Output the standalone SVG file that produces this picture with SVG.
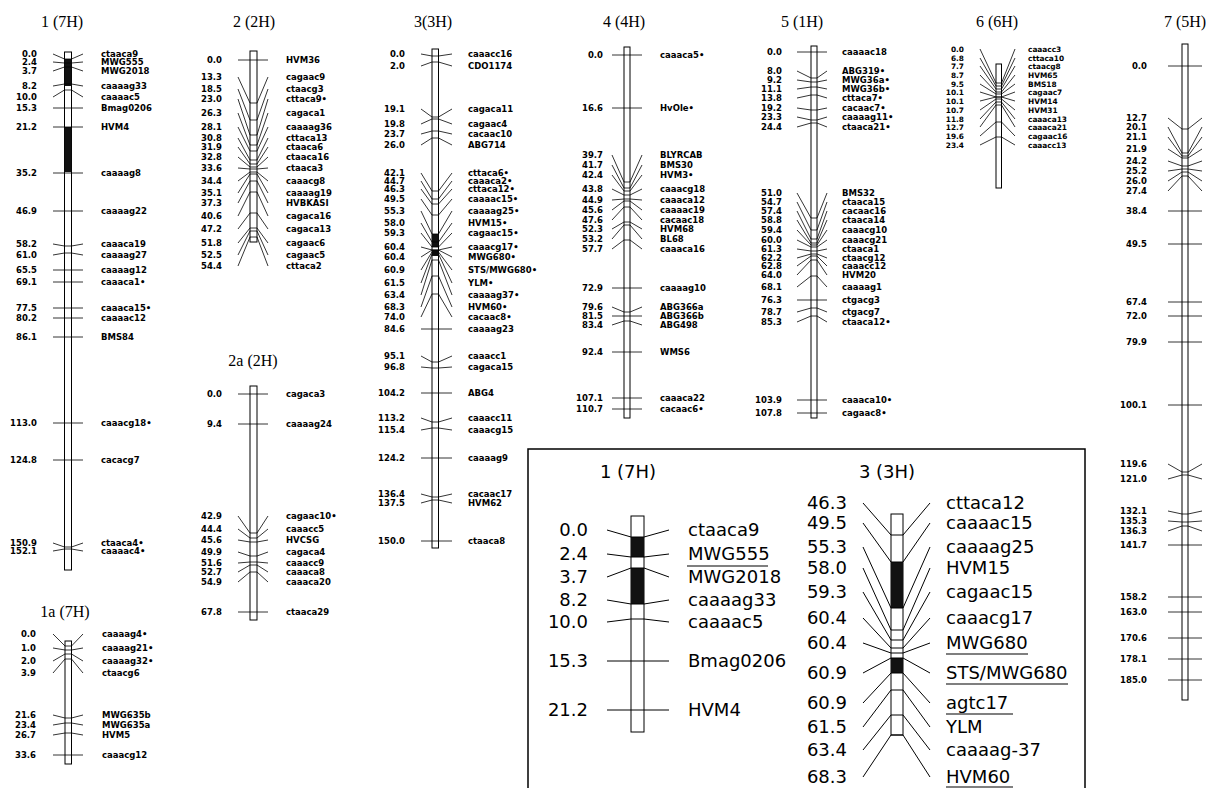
<svg xmlns="http://www.w3.org/2000/svg" width="1209" height="788" viewBox="0 0 1209 788">
<style>
.t{font-family:"Liberation Serif",serif;font-size:16px;text-anchor:middle}
.n{font-family:"DejaVu Sans",sans-serif;font-weight:bold;font-size:8.5px;text-anchor:end}
.l{font-family:"DejaVu Sans",sans-serif;font-weight:bold;font-size:8.5px}
.ns{font-family:"DejaVu Sans",sans-serif;font-weight:bold;font-size:7.4px;text-anchor:end}
.ls{font-family:"DejaVu Sans",sans-serif;font-weight:bold;font-size:7.4px}
.bar{fill:#fff;stroke:#000;stroke-width:1}
.k{fill:#111}
.tk polyline{fill:none;stroke:#000;stroke-width:0.8}
.it{font-family:"DejaVu Sans",sans-serif;font-size:18px}
.in{font-family:"DejaVu Sans",sans-serif;font-size:18px;text-anchor:end}
.ic{font-family:"DejaVu Sans",sans-serif;font-size:18px;text-anchor:middle}
.box{fill:none;stroke:#000;stroke-width:1.5}
.u{stroke:#000;stroke-width:1.2}
.itk polyline{fill:none;stroke:#000;stroke-width:1}
</style>
<rect width="1209" height="788" fill="#fff"/>

<g id="chr1">
<text class="t" x="62" y="27">1 (7H)</text>
<rect class="bar" x="64.5" y="52" width="7" height="518"/>
<rect class="k" x="64.5" y="59" width="7" height="27"/>
<rect class="k" x="64.5" y="127" width="7" height="45"/>
<g class="tk">
<polyline points="53,54 64.5,59 71.5,59 83,54"/>
<polyline points="53,62 64.5,63 71.5,63 83,62"/>
<polyline points="53,71 64.5,67 71.5,67 83,71"/>
<polyline points="53,86 64.5,84 71.5,84 83,86"/>
<polyline points="53,97 64.5,90 71.5,90 83,97"/>
<polyline points="53,108 83,108"/>
<polyline points="53,127 83,127"/>
<polyline points="53,173 83,173"/>
<polyline points="53,211 83,211"/>
<polyline points="53,244 64.5,246 71.5,246 83,244"/>
<polyline points="53,255 64.5,253 71.5,253 83,255"/>
<polyline points="53,270 83,270"/>
<polyline points="53,282 83,282"/>
<polyline points="53,308 83,308"/>
<polyline points="53,318 83,318"/>
<polyline points="53,337 83,337"/>
<polyline points="53,423 83,423"/>
<polyline points="53,460 83,460"/>
<polyline points="53,543 64.5,547 71.5,547 83,543"/>
<polyline points="53,551 64.5,549 71.5,549 83,551"/>
</g>
<text class="n" x="37" y="57">0.0</text><text class="l" x="101" y="57">ctaaca9</text>
<text class="n" x="37" y="65">2.4</text><text class="l" x="101" y="65">MWG555</text>
<text class="n" x="37" y="74">3.7</text><text class="l" x="101" y="74">MWG2018</text>
<text class="n" x="37" y="89">8.2</text><text class="l" x="101" y="89">caaaag33</text>
<text class="n" x="37" y="100">10.0</text><text class="l" x="101" y="100">caaaac5</text>
<text class="n" x="37" y="111">15.3</text><text class="l" x="101" y="111">Bmag0206</text>
<text class="n" x="37" y="130">21.2</text><text class="l" x="101" y="130">HVM4</text>
<text class="n" x="37" y="176">35.2</text><text class="l" x="101" y="176">caaaag8</text>
<text class="n" x="37" y="214">46.9</text><text class="l" x="101" y="214">caaaag22</text>
<text class="n" x="37" y="247">58.2</text><text class="l" x="101" y="247">caaaca19</text>
<text class="n" x="37" y="258">61.0</text><text class="l" x="101" y="258">caaaag27</text>
<text class="n" x="37" y="273">65.5</text><text class="l" x="101" y="273">caaaag12</text>
<text class="n" x="37" y="285">69.1</text><text class="l" x="101" y="285">caaaca1•</text>
<text class="n" x="37" y="311">77.5</text><text class="l" x="101" y="311">caaaca15•</text>
<text class="n" x="37" y="321">80.2</text><text class="l" x="101" y="321">caaaac12</text>
<text class="n" x="37" y="340">86.1</text><text class="l" x="101" y="340">BMS84</text>
<text class="n" x="37" y="426">113.0</text><text class="l" x="101" y="426">caaacg18•</text>
<text class="n" x="37" y="463">124.8</text><text class="l" x="101" y="463">cacacg7</text>
<text class="n" x="37" y="546">150.9</text><text class="l" x="101" y="546">ctaaca4•</text>
<text class="n" x="37" y="554">152.1</text><text class="l" x="101" y="554">caaaac4•</text>
</g>

<g id="chr1a">
<text class="t" x="65" y="617">1a (7H)</text>
<rect class="bar" x="65" y="641" width="6.5" height="123"/>
<g class="tk">
<polyline points="53,634 65,646 71.5,646 83,634"/>
<polyline points="53,648 65,650 71.5,650 83,648"/>
<polyline points="53,661 65,654 71.5,654 83,661"/>
<polyline points="53,673 65,659 71.5,659 83,673"/>
<polyline points="53,715 65,718 71.5,718 83,715"/>
<polyline points="53,725 65,723 71.5,723 83,725"/>
<polyline points="53,735 65,733 71.5,733 83,735"/>
<polyline points="53,755 83,755"/>
</g>
<text class="n" x="36" y="637">0.0</text><text class="l" x="102" y="637">caaaag4•</text>
<text class="n" x="36" y="651">1.0</text><text class="l" x="102" y="651">caaaag21•</text>
<text class="n" x="36" y="664">2.0</text><text class="l" x="102" y="664">caaaag32•</text>
<text class="n" x="36" y="676">3.9</text><text class="l" x="102" y="676">ctaacg6</text>
<text class="n" x="36" y="718">21.6</text><text class="l" x="102" y="718">MWG635b</text>
<text class="n" x="36" y="728">23.4</text><text class="l" x="102" y="728">MWG635a</text>
<text class="n" x="36" y="738">26.7</text><text class="l" x="102" y="738">HVM5</text>
<text class="n" x="36" y="758">33.6</text><text class="l" x="102" y="758">caaacg12</text>
</g>

<g id="chr2">
<text class="t" x="254" y="27">2 (2H)</text>
<rect class="bar" x="250" y="51" width="7" height="191"/>
<g class="tk">
<polyline points="238,60 268,60"/>
<polyline points="238,77 250,103 257,103 268,77"/>
<polyline points="238,89 250,120 257,120 268,89"/>
<polyline points="238,99 250,135 257,135 268,99"/>
<polyline points="238,113 250,145 257,145 268,113"/>
<polyline points="238,127 250,151 257,151 268,127"/>
<polyline points="238,138 250,160 257,160 268,138"/>
<polyline points="238,147 250,164 257,164 268,147"/>
<polyline points="238,157 250,167 257,167 268,157"/>
<polyline points="238,168 250,169 257,169 268,168"/>
<polyline points="238,181 250,172 257,172 268,181"/>
<polyline points="238,193 250,174 257,174 268,193"/>
<polyline points="238,203 250,181 257,181 268,203"/>
<polyline points="238,216 250,192 257,192 268,216"/>
<polyline points="238,229 250,213 257,213 268,229"/>
<polyline points="238,243 250,228 257,228 268,243"/>
<polyline points="238,255 250,231 257,231 268,255"/>
<polyline points="238,266 250,237 257,237 268,266"/>
</g>
<text class="n" x="222" y="63">0.0</text><text class="l" x="286" y="63">HVM36</text>
<text class="n" x="222" y="80">13.3</text><text class="l" x="286" y="80">cagaac9</text>
<text class="n" x="222" y="92">18.5</text><text class="l" x="286" y="92">ctaacg3</text>
<text class="n" x="222" y="102">23.0</text><text class="l" x="286" y="102">cttaca9•</text>
<text class="n" x="222" y="116">26.3</text><text class="l" x="286" y="116">cagaca1</text>
<text class="n" x="222" y="130">28.1</text><text class="l" x="286" y="130">caaaag36</text>
<text class="n" x="222" y="141">30.8</text><text class="l" x="286" y="141">cttaca13</text>
<text class="n" x="222" y="150">31.9</text><text class="l" x="286" y="150">ctaaca6</text>
<text class="n" x="222" y="160">32.8</text><text class="l" x="286" y="160">ctaaca16</text>
<text class="n" x="222" y="171">33.6</text><text class="l" x="286" y="171">ctaaca3</text>
<text class="n" x="222" y="184">34.4</text><text class="l" x="286" y="184">caaacg8</text>
<text class="n" x="222" y="196">35.1</text><text class="l" x="286" y="196">caaaag19</text>
<text class="n" x="222" y="206">37.3</text><text class="l" x="286" y="206">HVBKASI</text>
<text class="n" x="222" y="219">40.6</text><text class="l" x="286" y="219">cagaca16</text>
<text class="n" x="222" y="232">47.2</text><text class="l" x="286" y="232">cagaca13</text>
<text class="n" x="222" y="246">51.8</text><text class="l" x="286" y="246">cagaac6</text>
<text class="n" x="222" y="258">52.5</text><text class="l" x="286" y="258">cagaac5</text>
<text class="n" x="222" y="269">54.4</text><text class="l" x="286" y="269">cttaca2</text>
</g>

<g id="chr2a">
<text class="t" x="253" y="366">2a (2H)</text>
<rect class="bar" x="250" y="386" width="7" height="234"/>
<g class="tk">
<polyline points="238,394 268,394"/>
<polyline points="238,424 268,424"/>
<polyline points="238,516 250,533 257,533 268,516"/>
<polyline points="238,529 250,538 257,538 268,529"/>
<polyline points="238,540 250,542 257,542 268,540"/>
<polyline points="238,552 250,556 257,556 268,552"/>
<polyline points="238,563 250,562 257,562 268,563"/>
<polyline points="238,572 250,565 257,565 268,572"/>
<polyline points="238,582 250,572 257,572 268,582"/>
<polyline points="238,612 268,612"/>
</g>
<text class="n" x="222" y="397">0.0</text><text class="l" x="286" y="397">cagaca3</text>
<text class="n" x="222" y="427">9.4</text><text class="l" x="286" y="427">caaaag24</text>
<text class="n" x="222" y="519">42.9</text><text class="l" x="286" y="519">cagaac10•</text>
<text class="n" x="222" y="532">44.4</text><text class="l" x="286" y="532">caaacc5</text>
<text class="n" x="222" y="543">45.6</text><text class="l" x="286" y="543">HVCSG</text>
<text class="n" x="222" y="555">49.9</text><text class="l" x="286" y="555">cagaca4</text>
<text class="n" x="222" y="566">51.6</text><text class="l" x="286" y="566">caaacc9</text>
<text class="n" x="222" y="575">52.7</text><text class="l" x="286" y="575">caaaca8</text>
<text class="n" x="222" y="585">54.9</text><text class="l" x="286" y="585">caaaca20</text>
<text class="n" x="222" y="615">67.8</text><text class="l" x="286" y="615">ctaaca29</text>
</g>

<g id="chr3">
<text class="t" x="433" y="27">3(3H)</text>
<rect class="bar" x="432" y="49" width="6.5" height="499"/>
<rect class="k" x="432" y="234" width="6.5" height="13"/>
<rect class="k" x="432" y="250" width="6.5" height="6"/>
<g class="tk">
<polyline points="421,54 432,56 438.5,56 452,54"/>
<polyline points="421,66 432,62 438.5,62 452,66"/>
<polyline points="421,109 432,117 438.5,117 452,109"/>
<polyline points="421,124 432,119 438.5,119 452,124"/>
<polyline points="421,134 432,131 438.5,131 452,134"/>
<polyline points="421,145 432,138 438.5,138 452,145"/>
<polyline points="421,173 432,191 438.5,191 452,173"/>
<polyline points="421,181 432,199 438.5,199 452,181"/>
<polyline points="421,189 432,204 438.5,204 452,189"/>
<polyline points="421,199 432,215 438.5,215 452,199"/>
<polyline points="421,211 432,234 438.5,234 452,211"/>
<polyline points="421,223 432,242 438.5,242 452,223"/>
<polyline points="421,233 432,247 438.5,247 452,233"/>
<polyline points="421,247 432,250 438.5,250 452,247"/>
<polyline points="421,257 432,250 438.5,250 452,257"/>
<polyline points="421,270 432,252 438.5,252 452,270"/>
<polyline points="421,283 432,254 438.5,254 452,283"/>
<polyline points="421,295 432,260 438.5,260 452,295"/>
<polyline points="421,307 432,276 438.5,276 452,307"/>
<polyline points="421,317 432,294 438.5,294 452,317"/>
<polyline points="421,329 452,329"/>
<polyline points="421,356 432,362 438.5,362 452,356"/>
<polyline points="421,367 432,368 438.5,368 452,367"/>
<polyline points="421,393 452,393"/>
<polyline points="421,418 432,422 438.5,422 452,418"/>
<polyline points="421,430 432,428 438.5,428 452,430"/>
<polyline points="421,458 452,458"/>
<polyline points="421,494 432,497 438.5,497 452,494"/>
<polyline points="421,503 432,500 438.5,500 452,503"/>
<polyline points="421,541 452,541"/>
</g>
<text class="n" x="405" y="57">0.0</text><text class="l" x="468" y="57">caaacc16</text>
<text class="n" x="405" y="69">2.0</text><text class="l" x="468" y="69">CDO1174</text>
<text class="n" x="405" y="112">19.1</text><text class="l" x="468" y="112">cagaca11</text>
<text class="n" x="405" y="127">19.8</text><text class="l" x="468" y="127">cagaac4</text>
<text class="n" x="405" y="137">23.7</text><text class="l" x="468" y="137">cacaac10</text>
<text class="n" x="405" y="148">26.0</text><text class="l" x="468" y="148">ABG714</text>
<text class="n" x="405" y="176">42.1</text><text class="l" x="468" y="176">cttaca6•</text>
<text class="n" x="405" y="184">44.7</text><text class="l" x="468" y="184">caaaca2•</text>
<text class="n" x="405" y="192">46.3</text><text class="l" x="468" y="192">cttaca12•</text>
<text class="n" x="405" y="202">49.5</text><text class="l" x="468" y="202">caaaac15•</text>
<text class="n" x="405" y="214">55.3</text><text class="l" x="468" y="214">caaaag25•</text>
<text class="n" x="405" y="226">58.0</text><text class="l" x="468" y="226">HVM15•</text>
<text class="n" x="405" y="236">59.3</text><text class="l" x="468" y="236">cagaac15•</text>
<text class="n" x="405" y="250">60.4</text><text class="l" x="468" y="250">caaacg17•</text>
<text class="n" x="405" y="260">60.4</text><text class="l" x="468" y="260">MWG680•</text>
<text class="n" x="405" y="273">60.9</text><text class="l" x="468" y="273">STS/MWG680•</text>
<text class="n" x="405" y="286">61.5</text><text class="l" x="468" y="286">YLM•</text>
<text class="n" x="405" y="298">63.4</text><text class="l" x="468" y="298">caaaag37•</text>
<text class="n" x="405" y="310">68.3</text><text class="l" x="468" y="310">HVM60•</text>
<text class="n" x="405" y="320">74.0</text><text class="l" x="468" y="320">cacaac8•</text>
<text class="n" x="405" y="332">84.6</text><text class="l" x="468" y="332">caaaag23</text>
<text class="n" x="405" y="359">95.1</text><text class="l" x="468" y="359">caaacc1</text>
<text class="n" x="405" y="370">96.8</text><text class="l" x="468" y="370">cagaca15</text>
<text class="n" x="405" y="396">104.2</text><text class="l" x="468" y="396">ABG4</text>
<text class="n" x="405" y="421">113.2</text><text class="l" x="468" y="421">caaacc11</text>
<text class="n" x="405" y="433">115.4</text><text class="l" x="468" y="433">caaacg15</text>
<text class="n" x="405" y="461">124.2</text><text class="l" x="468" y="461">caaaag9</text>
<text class="n" x="405" y="497">136.4</text><text class="l" x="468" y="497">cacaac17</text>
<text class="n" x="405" y="506">137.5</text><text class="l" x="468" y="506">HVM62</text>
<text class="n" x="405" y="544">150.0</text><text class="l" x="468" y="544">ctaaca8</text>
</g>

<g id="chr4">
<text class="t" x="624" y="27">4 (4H)</text>
<rect class="bar" x="624" y="47" width="6" height="371"/>
<g class="tk">
<polyline points="612,55 642,55"/>
<polyline points="612,108 642,108"/>
<polyline points="612,155 624,182 630,182 642,155"/>
<polyline points="612,165 624,188 630,188 642,165"/>
<polyline points="612,175 624,191 630,191 642,175"/>
<polyline points="612,189 624,195 630,195 642,189"/>
<polyline points="612,200 624,199 630,199 642,200"/>
<polyline points="612,210 624,201 630,201 642,210"/>
<polyline points="612,220 624,207 630,207 642,220"/>
<polyline points="612,229 624,222 630,222 642,229"/>
<polyline points="612,239 624,225 630,225 642,239"/>
<polyline points="612,249 624,240 630,240 642,249"/>
<polyline points="612,288 642,288"/>
<polyline points="612,307 624,312 630,312 642,307"/>
<polyline points="612,316 642,316"/>
<polyline points="612,325 624,321 630,321 642,325"/>
<polyline points="612,352 642,352"/>
<polyline points="612,398 642,398"/>
<polyline points="612,409 642,409"/>
</g>
<text class="n" x="603" y="58">0.0</text><text class="l" x="660" y="58">caaaca5•</text>
<text class="n" x="603" y="111">16.6</text><text class="l" x="660" y="111">HvOle•</text>
<text class="n" x="603" y="158">39.7</text><text class="l" x="660" y="158">BLYRCAB</text>
<text class="n" x="603" y="168">41.7</text><text class="l" x="660" y="168">BMS30</text>
<text class="n" x="603" y="178">42.4</text><text class="l" x="660" y="178">HVM3•</text>
<text class="n" x="603" y="192">43.8</text><text class="l" x="660" y="192">caaacg18</text>
<text class="n" x="603" y="203">44.9</text><text class="l" x="660" y="203">caaaca12</text>
<text class="n" x="603" y="213">45.6</text><text class="l" x="660" y="213">caaaac19</text>
<text class="n" x="603" y="223">47.6</text><text class="l" x="660" y="223">cacaac18</text>
<text class="n" x="603" y="232">52.3</text><text class="l" x="660" y="232">HVM68</text>
<text class="n" x="603" y="242">53.2</text><text class="l" x="660" y="242">BL68</text>
<text class="n" x="603" y="252">57.7</text><text class="l" x="660" y="252">caaaca16</text>
<text class="n" x="603" y="291">72.9</text><text class="l" x="660" y="291">caaaag10</text>
<text class="n" x="603" y="310">79.6</text><text class="l" x="660" y="310">ABG366a</text>
<text class="n" x="603" y="319">81.5</text><text class="l" x="660" y="319">ABG366b</text>
<text class="n" x="603" y="328">83.4</text><text class="l" x="660" y="328">ABG498</text>
<text class="n" x="603" y="355">92.4</text><text class="l" x="660" y="355">WMS6</text>
<text class="n" x="603" y="401">107.1</text><text class="l" x="660" y="401">caaaca22</text>
<text class="n" x="603" y="412">110.7</text><text class="l" x="660" y="412">cacaac6•</text>
</g>

<g id="chr5">
<text class="t" x="802" y="27">5 (1H)</text>
<rect class="bar" x="811" y="46" width="6" height="372"/>
<g class="tk">
<polyline points="797,52 827,52"/>
<polyline points="797,71 811,78 817,78 827,71"/>
<polyline points="797,80 811,82 817,82 827,80"/>
<polyline points="797,89 811,87 817,87 827,89"/>
<polyline points="797,98 811,95 817,95 827,98"/>
<polyline points="797,108 811,110 817,110 827,108"/>
<polyline points="797,117 811,120 817,120 827,117"/>
<polyline points="797,127 811,123 817,123 827,127"/>
<polyline points="797,193 811,218 817,218 827,193"/>
<polyline points="797,202 811,230 817,230 827,202"/>
<polyline points="797,211 811,239 817,239 827,211"/>
<polyline points="797,220 811,243 817,243 827,220"/>
<polyline points="797,230 811,245 817,245 827,230"/>
<polyline points="797,240 811,247 817,247 827,240"/>
<polyline points="797,249 811,251 817,251 827,249"/>
<polyline points="797,258 811,254 817,254 827,258"/>
<polyline points="797,266 811,256 817,256 827,266"/>
<polyline points="797,275 811,260 817,260 827,275"/>
<polyline points="797,287 811,276 817,276 827,287"/>
<polyline points="797,300 827,300"/>
<polyline points="797,312 811,308 817,308 827,312"/>
<polyline points="797,322 811,316 817,316 827,322"/>
<polyline points="797,400 827,400"/>
<polyline points="797,413 827,413"/>
</g>
<text class="n" x="782" y="55">0.0</text><text class="l" x="842" y="55">caaaac18</text>
<text class="n" x="782" y="74">8.0</text><text class="l" x="842" y="74">ABG319•</text>
<text class="n" x="782" y="83">9.2</text><text class="l" x="842" y="83">MWG36a•</text>
<text class="n" x="782" y="92">11.1</text><text class="l" x="842" y="92">MWG36b•</text>
<text class="n" x="782" y="101">13.8</text><text class="l" x="842" y="101">cttaca7•</text>
<text class="n" x="782" y="111">19.2</text><text class="l" x="842" y="111">cacaac7•</text>
<text class="n" x="782" y="120">23.3</text><text class="l" x="842" y="120">caaaag11•</text>
<text class="n" x="782" y="130">24.4</text><text class="l" x="842" y="130">ctaaca21•</text>
<text class="n" x="782" y="196">51.0</text><text class="l" x="842" y="196">BMS32</text>
<text class="n" x="782" y="205">54.7</text><text class="l" x="842" y="205">ctaaca15</text>
<text class="n" x="782" y="214">57.4</text><text class="l" x="842" y="214">cacaac16</text>
<text class="n" x="782" y="223">58.8</text><text class="l" x="842" y="223">ctaaca14</text>
<text class="n" x="782" y="233">59.4</text><text class="l" x="842" y="233">caaacg10</text>
<text class="n" x="782" y="243">60.0</text><text class="l" x="842" y="243">caaacg21</text>
<text class="n" x="782" y="252">61.3</text><text class="l" x="842" y="252">ctaaca1</text>
<text class="n" x="782" y="261">62.2</text><text class="l" x="842" y="261">ctaacg12</text>
<text class="n" x="782" y="269">62.8</text><text class="l" x="842" y="269">caaacc12</text>
<text class="n" x="782" y="278">64.0</text><text class="l" x="842" y="278">HVM20</text>
<text class="n" x="782" y="290">68.1</text><text class="l" x="842" y="290">caaaag1</text>
<text class="n" x="782" y="303">76.3</text><text class="l" x="842" y="303">ctgacg3</text>
<text class="n" x="782" y="315">78.7</text><text class="l" x="842" y="315">ctgacg7</text>
<text class="n" x="782" y="325">85.3</text><text class="l" x="842" y="325">ctaaca12•</text>
<text class="n" x="782" y="403">103.9</text><text class="l" x="842" y="403">caaaca10•</text>
<text class="n" x="782" y="416">107.8</text><text class="l" x="842" y="416">cagaac8•</text>
</g>

<g id="chr6">
<text class="t" x="997" y="27">6 (6H)</text>
<rect class="bar" x="996" y="64" width="5.5" height="124"/>
<g class="tk">
<polyline points="980,49 996,83 1001.5,83 1015,49"/>
<polyline points="980,58 996,86 1001.5,86 1015,58"/>
<polyline points="980,66 996,89 1001.5,89 1015,66"/>
<polyline points="980,75 996,92 1001.5,92 1015,75"/>
<polyline points="980,84 996,94 1001.5,94 1015,84"/>
<polyline points="980,92 996,97 1001.5,97 1015,92"/>
<polyline points="980,101 996,97 1001.5,97 1015,101"/>
<polyline points="980,110 996,99 1001.5,99 1015,110"/>
<polyline points="980,119 996,102 1001.5,102 1015,119"/>
<polyline points="980,127 996,105 1001.5,105 1015,127"/>
<polyline points="980,136 996,122 1001.5,122 1015,136"/>
<polyline points="980,145 996,137 1001.5,137 1015,145"/>
</g>
<text class="ns" x="964" y="51.7">0.0</text><text class="ls" x="1028" y="51.7">caaacc3</text>
<text class="ns" x="964" y="60.7">6.8</text><text class="ls" x="1028" y="60.7">cttaca10</text>
<text class="ns" x="964" y="68.7">7.7</text><text class="ls" x="1028" y="68.7">ctaacg8</text>
<text class="ns" x="964" y="77.7">8.7</text><text class="ls" x="1028" y="77.7">HVM65</text>
<text class="ns" x="964" y="86.7">9.5</text><text class="ls" x="1028" y="86.7">BMS18</text>
<text class="ns" x="964" y="94.7">10.1</text><text class="ls" x="1028" y="94.7">cagaac7</text>
<text class="ns" x="964" y="103.7">10.1</text><text class="ls" x="1028" y="103.7">HVM14</text>
<text class="ns" x="964" y="112.7">10.7</text><text class="ls" x="1028" y="112.7">HVM31</text>
<text class="ns" x="964" y="121.7">11.8</text><text class="ls" x="1028" y="121.7">caaaca13</text>
<text class="ns" x="964" y="129.7">12.7</text><text class="ls" x="1028" y="129.7">caaaca21</text>
<text class="ns" x="964" y="138.7">19.6</text><text class="ls" x="1028" y="138.7">cagaac16</text>
<text class="ns" x="964" y="147.7">23.4</text><text class="ls" x="1028" y="147.7">caaacc13</text>
</g>

<g id="chr7">
<text class="t" x="1185" y="27">7 (5H)</text>
<rect class="bar" x="1182" y="44" width="6" height="656"/>
<g class="tk">
<polyline points="1168,66 1202,66"/>
<polyline points="1168,118 1182,129 1188,129 1202,118"/>
<polyline points="1168,127 1182,153 1188,153 1202,127"/>
<polyline points="1168,137 1182,156 1188,156 1202,137"/>
<polyline points="1168,149 1182,158 1188,158 1202,149"/>
<polyline points="1168,161 1182,166 1188,166 1202,161"/>
<polyline points="1168,171 1182,169 1188,169 1202,171"/>
<polyline points="1168,181 1182,172 1188,172 1202,181"/>
<polyline points="1168,191 1182,176 1188,176 1202,191"/>
<polyline points="1168,211 1202,211"/>
<polyline points="1168,244 1202,244"/>
<polyline points="1168,302 1202,302"/>
<polyline points="1168,316 1202,316"/>
<polyline points="1168,342 1202,342"/>
<polyline points="1168,405 1202,405"/>
<polyline points="1168,464 1182,472 1188,472 1202,464"/>
<polyline points="1168,479 1182,475 1188,475 1202,479"/>
<polyline points="1168,511 1182,514 1188,514 1202,511"/>
<polyline points="1168,521 1182,522 1188,522 1202,521"/>
<polyline points="1168,531 1182,526 1188,526 1202,531"/>
<polyline points="1168,545 1202,545"/>
<polyline points="1168,597 1202,597"/>
<polyline points="1168,612 1202,612"/>
<polyline points="1168,638 1202,638"/>
<polyline points="1168,659 1202,659"/>
<polyline points="1168,680 1202,680"/>
</g>
<text class="n" x="1147" y="69">0.0</text>
<text class="n" x="1147" y="121">12.7</text>
<text class="n" x="1147" y="130">20.1</text>
<text class="n" x="1147" y="140">21.1</text>
<text class="n" x="1147" y="152">21.9</text>
<text class="n" x="1147" y="164">24.2</text>
<text class="n" x="1147" y="174">25.2</text>
<text class="n" x="1147" y="184">26.0</text>
<text class="n" x="1147" y="194">27.4</text>
<text class="n" x="1147" y="214">38.4</text>
<text class="n" x="1147" y="247">49.5</text>
<text class="n" x="1147" y="305">67.4</text>
<text class="n" x="1147" y="319">72.0</text>
<text class="n" x="1147" y="345">79.9</text>
<text class="n" x="1147" y="408">100.1</text>
<text class="n" x="1147" y="467">119.6</text>
<text class="n" x="1147" y="482">121.0</text>
<text class="n" x="1147" y="514">132.1</text>
<text class="n" x="1147" y="524">135.3</text>
<text class="n" x="1147" y="534">136.3</text>
<text class="n" x="1147" y="548">141.7</text>
<text class="n" x="1147" y="600">158.2</text>
<text class="n" x="1147" y="615">163.0</text>
<text class="n" x="1147" y="641">170.6</text>
<text class="n" x="1147" y="662">178.1</text>
<text class="n" x="1147" y="683">185.0</text>
</g>

<g id="inset">
<rect class="box" x="528" y="449" width="557" height="350"/>
<g id="inset-chr1">
<text class="ic" x="628" y="478">1 (7H)</text>
<rect class="bar" x="631" y="516" width="13" height="216"/>
<rect class="k" x="631" y="537" width="13" height="20"/>
<rect class="k" x="631" y="568" width="13" height="36"/>
<g class="itk">
<polyline points="607,530 631,537 644,537 669,530"/>
<polyline points="607,554 631,557 644,557 669,554"/>
<polyline points="607,577 631,568 644,568 669,577"/>
<polyline points="607,600 631,604 644,604 669,600"/>
<polyline points="607,622 631,619 644,619 669,622"/>
<polyline points="607,661 669,661"/>
<polyline points="607,710 669,710"/>
</g>
<text class="in" x="588" y="536">0.0</text><text class="it" x="688" y="536">ctaaca9</text>
<text class="in" x="588" y="560">2.4</text><text class="it" x="688" y="560">MWG555</text>
<text class="in" x="588" y="583">3.7</text><text class="it" x="688" y="583">MWG2018</text>
<text class="in" x="588" y="606">8.2</text><text class="it" x="688" y="606">caaaag33</text>
<text class="in" x="588" y="628">10.0</text><text class="it" x="688" y="628">caaaac5</text>
<text class="in" x="588" y="667">15.3</text><text class="it" x="688" y="667">Bmag0206</text>
<text class="in" x="588" y="716">21.2</text><text class="it" x="688" y="716">HVM4</text>
<line class="u" x1="687" y1="566" x2="768" y2="566"/>
</g>
<g id="inset-chr3">
<text class="ic" x="887" y="478">3 (3H)</text>
<rect class="bar" x="891" y="514" width="12" height="221"/>
<rect class="k" x="891" y="562" width="12" height="46"/>
<rect class="k" x="891" y="658" width="12" height="15"/>
<g class="itk">
<polyline points="863,503 891,535 903,535 930,503"/>
<polyline points="863,523 891,562 903,562 930,523"/>
<polyline points="863,547 891,608 903,608 930,547"/>
<polyline points="863,568 891,630 903,630 930,568"/>
<polyline points="863,592 891,640 903,640 930,592"/>
<polyline points="863,618 891,648 903,648 930,618"/>
<polyline points="863,643 891,653 903,653 930,643"/>
<polyline points="863,673 891,658 903,658 930,673"/>
<polyline points="863,703 891,673 903,673 930,703"/>
<polyline points="863,727 891,690 903,690 930,727"/>
<polyline points="863,750 891,715 903,715 930,750"/>
<polyline points="863,777 891,735 903,735 930,777"/>
</g>
<text class="in" x="847" y="509">46.3</text><text class="it" x="946" y="509">cttaca12</text>
<text class="in" x="847" y="529">49.5</text><text class="it" x="946" y="529">caaaac15</text>
<text class="in" x="847" y="553">55.3</text><text class="it" x="946" y="553">caaaag25</text>
<text class="in" x="847" y="574">58.0</text><text class="it" x="946" y="574">HVM15</text>
<text class="in" x="847" y="598">59.3</text><text class="it" x="946" y="598">cagaac15</text>
<text class="in" x="847" y="624">60.4</text><text class="it" x="946" y="624">caaacg17</text>
<text class="in" x="847" y="649">60.4</text><text class="it" x="946" y="649">MWG680</text>
<text class="in" x="847" y="679">60.9</text><text class="it" x="946" y="679">STS/MWG680</text>
<text class="in" x="847" y="709">60.9</text><text class="it" x="946" y="709">agtc17</text>
<text class="in" x="847" y="733">61.5</text><text class="it" x="946" y="733">YLM</text>
<text class="in" x="847" y="756">63.4</text><text class="it" x="946" y="756">caaaag-37</text>
<text class="in" x="847" y="783">68.3</text><text class="it" x="946" y="783">HVM60</text>
<line class="u" x1="946" y1="654" x2="1028" y2="654"/>
<line class="u" x1="946" y1="684" x2="1068" y2="684"/>
<line class="u" x1="946" y1="714" x2="1013" y2="714"/>
<line class="u" x1="946" y1="787" x2="1013" y2="787"/>
</g>
</g>
</svg>
